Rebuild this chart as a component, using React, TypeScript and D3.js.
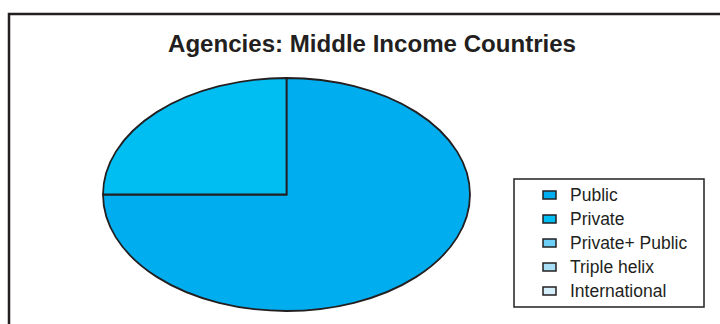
import React from "react";
import * as d3 from "d3";

const categories = ["Public", "Private", "Private+ Public", "Triple helix", "International"];
const values = [75, 25, 0, 0, 0];
const colors = ["#00AEEF", "#00BDF2", "#6DCFF6", "#A7DDF5", "#D4EEFA"];
const title = "Agencies: Middle Income Countries";

export default function App() {
  const W = 720, H = 324;
  const cx = 286.5, cy = 194.5, rx = 183.5, ry = 116.5;
  const pie = d3.pie<number>().sort(null).value((d) => d)(values);
  const arc = d3.arc<d3.PieArcDatum<number>>().innerRadius(0).outerRadius(1);
  const legendY = d3.scaleBand<string>().domain(categories).range([183, 303]);
  return (
    <svg width={W} height={H} style={{ position: "absolute", left: 0, top: 0, background: "#fff" }}
      fontFamily="'Liberation Sans', Arial, sans-serif">
      <rect x={9} y={14} width={760} height={400} fill="none" stroke="#231F20" strokeWidth={2.5} />
      <text x={372} y={52} textAnchor="middle" fontSize={23} fontWeight="bold" fill="#231F20"
        textLength={408} lengthAdjust="spacingAndGlyphs">{title}</text>
      <g transform={`translate(${cx},${cy}) scale(${rx},${ry})`}>
        {pie.map((p, i) => p.value > 0 ? (
          <path key={i} d={arc(p) || ""} fill={colors[i]} stroke="#231F20" strokeWidth={1.8}
            vectorEffect="non-scaling-stroke" strokeLinejoin="miter" />
        ) : null)}
      </g>
      <rect x={514} y={179} width={190} height={128} fill="#fff" stroke="#231F20" strokeWidth={1.5} />
      {categories.map((c, i) => {
        const y = (legendY(c) || 0) + legendY.bandwidth() / 2;
        return (
          <g key={c}>
            <rect x={543} y={y - 4} width={13} height={8} fill={colors[i]} stroke="#231F20" strokeWidth={1.5} />
            <text x={570} y={y + 6} fontSize={17.5} fill="#231F20">{c}</text>
          </g>
        );
      })}
    </svg>
  );
}
